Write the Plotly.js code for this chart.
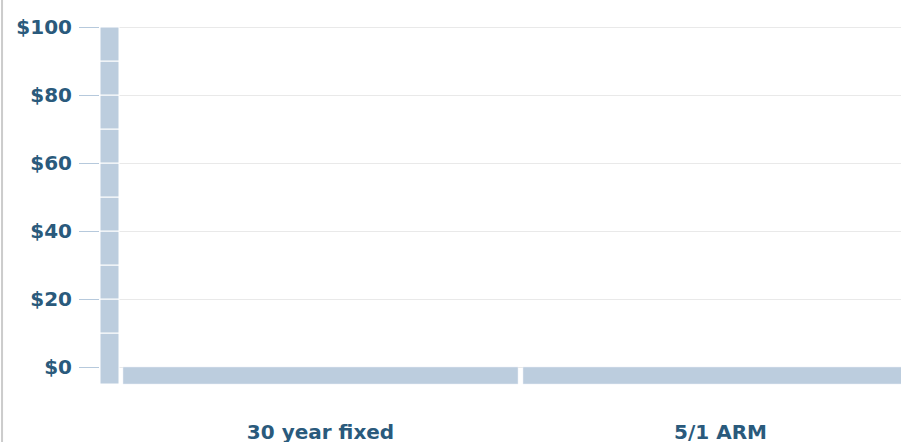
<!DOCTYPE html>
<html>
<head>
<meta charset="utf-8">
<script src="https://cdn.plot.ly/plotly-3.0.1.min.js"></script>
<style>html,body{margin:0;padding:0;background:#fff;}#chart{width:901px;height:442px;}</style>
</head>
<body>
<div id="chart"></div>
<script>
// ---- data ----
var categories = ["30 year fixed", "5/1 ARM"];
var categoryPositions = [0, 1];
var values = [0, 0];                       // loan amounts shown (both at $0)
var yTickVals = [0, 20, 40, 60, 80, 100];
var yTickText = ["$0", "$20", "$40", "$60", "$80", "$100"];
// segmented y-axis scale bar: segment bases and heights (dollars)
var scaleBases = [-5, 10, 20, 30, 40, 50, 60, 70, 80, 90];
var scaleHeights = [15, 10, 10, 10, 10, 10, 10, 10, 10, 10];
var baseBandBottom = -5;

// ---- styles ----
var barColor = "#bccdde";
var textColor = "#2a5a7c";
var scaleX = -0.5275;

var traces = [
  {
    type: "bar",
    x: scaleBases.map(function(){ return scaleX; }),
    base: scaleBases,
    y: scaleHeights,
    width: 0.0475,
    marker: {color: barColor, line: {color: "#ffffff", width: 1}},
    hoverinfo: "skip",
    showlegend: false
  },
  {
    type: "bar",
    x: categoryPositions,
    base: categoryPositions.map(function(){ return baseBandBottom; }),
    y: values.map(function(v){ return v - baseBandBottom; }),
    width: 0.9875,
    marker: {color: barColor, line: {color: "#e8eef4", width: 0.5}},
    text: categories,
    hoverinfo: "text",
    textposition: "none",
    showlegend: false
  }
];

var layout = {
  width: 901,
  height: 442,
  margin: {l: 100, r: 0, t: 20, b: 52},
  paper_bgcolor: "#ffffff",
  plot_bgcolor: "#ffffff",
  barmode: "overlay",
  showlegend: false,
  font: {family: "DejaVu Sans", size: 20, color: textColor},
  xaxis: {
    type: "linear",
    range: [-0.55125, 1.45125],
    tickvals: categoryPositions,
    ticktext: categories,
    showgrid: false,
    zeroline: false,
    showline: false,
    ticks: "",
    ticklabelstandoff: 28,
    tickfont: {family: "DejaVu Sans", size: 20, color: textColor, weight: "bold"},
    fixedrange: true
  },
  yaxis: {
    range: [-6.76, 102.06],
    tickvals: yTickVals,
    ticktext: yTickText,
    showgrid: true,
    gridcolor: "#e9e9e9",
    gridwidth: 1,
    zeroline: false,
    showline: false,
    ticks: "outside",
    ticklen: 20,
    tickcolor: "#b6c9dc",
    tickwidth: 1,
    ticklabelstandoff: 3,
    tickfont: {family: "DejaVu Sans", size: 20, color: textColor, weight: "bold"},
    fixedrange: true
  },
  shapes: [
    {type: "line", xref: "paper", yref: "paper",
     x0: -0.1223, x1: -0.1223, y0: -0.1405, y1: 1.054,
     line: {color: "#cccccc", width: 2}}
  ]
};

Plotly.newPlot("chart", traces, layout, {displayModeBar: false, staticPlot: true});
</script>
</body>
</html>
